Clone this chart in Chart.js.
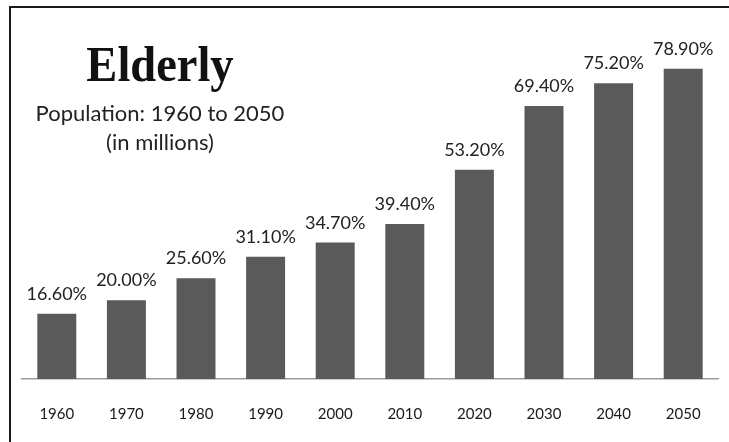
<!DOCTYPE html>
<html>
<head>
<meta charset="utf-8">
<script src="https://cdn.jsdelivr.net/npm/chart.js@4"></script>
<style>
    html, body { margin: 0; padding: 0; background: #fff; }
    #wrap { position: relative; width: 729px; height: 442px; overflow: hidden; }
    #frame {
        position: absolute; left: 9px; top: 6px; right: -10px; bottom: -10px;
        border-left: 2.5px solid #1a1a1a; border-top: 2.5px solid #1a1a1a;
    }
    #chart { position: absolute; left: 0; top: 0; }
    .heading { position: absolute; left: 0; width: 320px; text-align: center; color: #111; white-space: nowrap; }
    #title {
        top: 39px; font-family: "Liberation Serif", serif; font-weight: bold;
        font-size: 50px; line-height: 50px; transform: scaleX(0.93);
    }
    #sub1 { top: 100px; font-family: Lato, sans-serif; font-size: 22px; line-height: 26px; color: #222; }
    #sub2 { top: 129px; font-family: Lato, sans-serif; font-size: 22px; line-height: 26px; color: #222; }
</style>
</head>
<body>
<div id="wrap">
    <div id="frame"></div>
    <canvas id="chart" width="729" height="442"></canvas>
    <div class="heading" id="title">Elderly</div>
    <div class="heading" id="sub1">Population: 1960 to 2050</div>
    <div class="heading" id="sub2">(in millions)</div>
</div>
<script>
    // 年份與老年人口數據
    const years = ['1960', '1970', '1980', '1990', '2000', '2010', '2020', '2030', '2040', '2050'];
    const elderly = [16.6, 20.0, 25.6, 31.1, 34.7, 39.4, 53.2, 69.4, 75.2, 78.9];

    // 在柱子上方繪製數值標籤
    const barLabels = {
        id: 'barLabels',
        afterDatasetsDraw(chart) {
            const ctx = chart.ctx;
            const meta = chart.getDatasetMeta(0);
            ctx.save();
            ctx.font = '18px Lato, sans-serif';
            ctx.fillStyle = '#222';
            ctx.textAlign = 'center';
            ctx.textBaseline = 'alphabetic';
            meta.data.forEach((bar, i) => {
                ctx.fillText(elderly[i].toFixed(2) + '%', bar.x, bar.y - 14);
            });
            ctx.restore();
        }
    };

    new Chart(document.getElementById('chart'), {
        type: 'bar',
        data: {
            labels: years,
            datasets: [{
                data: elderly,
                backgroundColor: '#5a5a5a',
                borderWidth: 0,
                categoryPercentage: 1,
                barPercentage: 0.56
            }]
        },
        options: {
            responsive: false,
            animation: false,
            layout: { padding: { left: 22, right: 11, top: 25, bottom: 0 } },
            plugins: {
                legend: { display: false },
                tooltip: { enabled: false }
            },
            scales: {
                x: {
                    grid: { display: false },
                    border: { color: '#9a9a9a', width: 1.5 },
                    ticks: {
                        color: '#1a1a1a',
                        padding: 18,
                        font: { family: 'Lato, sans-serif', size: 15 }
                    },
                    // 固定 x 軸高度，讓基線落在 y=379
                    afterFit(axis) {
                        axis.height = 63;
                    }
                },
                y: {
                    display: false,
                    min: 0,
                    max: 90
                }
            }
        },
        plugins: [barLabels]
    });
</script>
</body>
</html>
